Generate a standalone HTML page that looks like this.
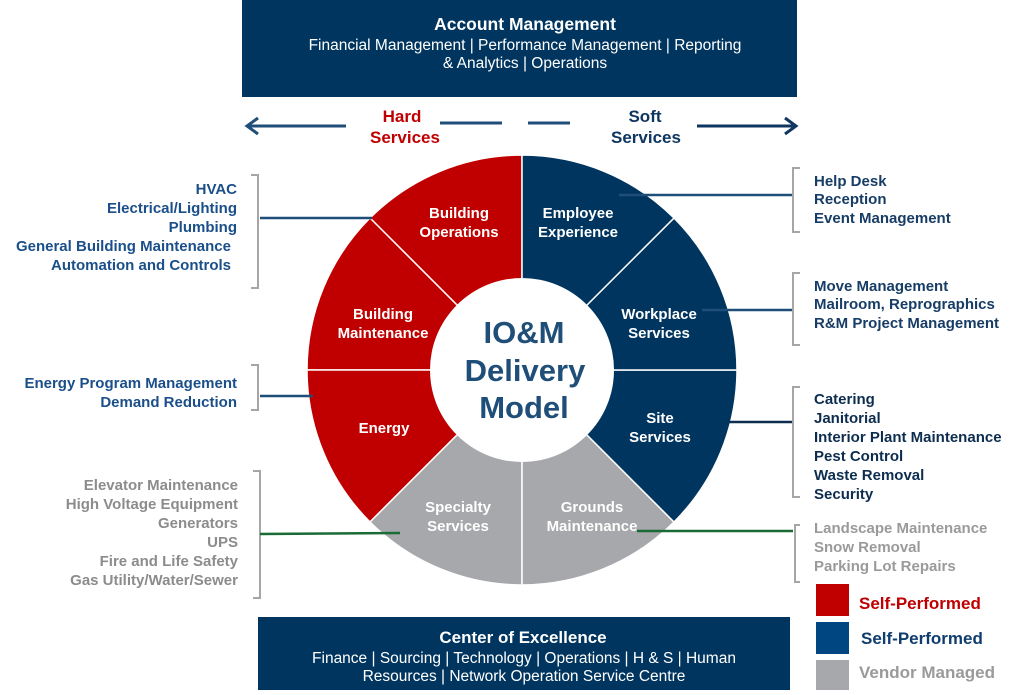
<!DOCTYPE html>
<html><head><meta charset="utf-8"><style>
html,body{margin:0;padding:0;background:#fff}
svg{display:block}
text{font-family:"Liberation Sans",Arial,sans-serif;font-weight:bold}
</style></head><body>
<svg width="1024" height="695" viewBox="0 0 1024 695" xmlns="http://www.w3.org/2000/svg">
<rect x="242" y="0" width="555" height="97" fill="#00355f"/>
<text x="525" y="30" font-size="17.5" fill="#fff" text-anchor="middle">Account Management</text>
<text x="525" y="50" font-size="15.5" fill="#fff" text-anchor="middle" style="font-weight:normal">Financial Management | Performance Management | Reporting</text>
<text x="525" y="68" font-size="15.5" fill="#fff" text-anchor="middle" style="font-weight:normal">&amp; Analytics | Operations</text>
<g stroke="#1f4e79" stroke-width="3" fill="none">
<line x1="247" y1="126" x2="346" y2="126"/>
<polyline points="258,118 247,126 258,134"/>
<line x1="440" y1="123" x2="502" y2="123"/>
<line x1="528" y1="123" x2="570" y2="123"/>
<line x1="697" y1="126" x2="796" y2="126" stroke="#0f3660"/>
<polyline points="785,118 796,126 785,134" stroke="#0f3660"/>
</g>
<text x="402" y="122" font-size="17" fill="#c00000" text-anchor="middle">Hard</text>
<text x="405" y="143" font-size="17" fill="#c00000" text-anchor="middle">Services</text>
<text x="645" y="122" font-size="17" fill="#0f3660" text-anchor="middle">Soft</text>
<text x="646" y="143" font-size="17" fill="#0f3660" text-anchor="middle">Services</text>
<g stroke="#fff" stroke-width="1.5">
<path d="M522,370 L522,155 A215,215 0 0 0 370,218 Z" fill="#c00000"/>
<path d="M522,370 L370,218 A215,215 0 0 0 307,370 Z" fill="#c00000"/>
<path d="M522,370 L307,370 A215,215 0 0 0 370,522 Z" fill="#c00000"/>
<path d="M522,370 L370,522 A215,215 0 0 0 522,585 Z" fill="#a7a8ab"/>
<path d="M522,370 L522,585 A215,215 0 0 0 674,522 Z" fill="#a7a8ab"/>
<path d="M522,370 L674,522 A215,215 0 0 0 737,370 Z" fill="#00355f"/>
<path d="M522,370 L737,370 A215,215 0 0 0 674,218 Z" fill="#00355f"/>
<path d="M522,370 L674,218 A215,215 0 0 0 522,155 Z" fill="#00355f"/>
</g>
<circle cx="522" cy="370" r="92" fill="#fff"/>
<text x="524" y="343" font-size="31" fill="#1f4e79" text-anchor="middle">IO&amp;M</text>
<text x="525" y="381" font-size="31" fill="#1f4e79" text-anchor="middle">Delivery</text>
<text x="524" y="418" font-size="31" fill="#1f4e79" text-anchor="middle">Model</text>
<g font-size="15" fill="#fff" text-anchor="middle">
<text x="459" y="218">Building</text><text x="459" y="237">Operations</text>
<text x="578" y="218">Employee</text><text x="578" y="237">Experience</text>
<text x="383" y="319">Building</text><text x="383" y="338">Maintenance</text>
<text x="659" y="319">Workplace</text><text x="659" y="338">Services</text>
<text x="384" y="433">Energy</text>
<text x="660" y="423">Site</text><text x="660" y="442">Services</text>
<text x="458" y="512">Specialty</text><text x="458" y="531">Services</text>
<text x="592" y="512">Grounds</text><text x="592" y="531">Maintenance</text>
</g>
<g stroke="#a6a6a6" stroke-width="2" fill="none">
<polyline points="251,175 258,175 258,288 251,288"/>
<polyline points="251,365 258,365 258,410 251,410"/>
<polyline points="253,471 260,471 260,598 253,598"/>
<polyline points="800,168 793,168 793,232 800,232"/>
<polyline points="800,273 793,273 793,345 800,345"/>
<polyline points="800,387 793,387 793,497 800,497"/>
<polyline points="800,525 795,525 795,582 800,582"/>
</g>
<g stroke-width="2.5" fill="none">
<line x1="260" y1="218" x2="372" y2="218" stroke="#1f4e79"/>
<line x1="260" y1="396" x2="313" y2="396" stroke="#1f4e79"/>
<line x1="260" y1="534" x2="400" y2="533" stroke="#1a6b35"/>
<line x1="619" y1="195" x2="792" y2="195" stroke="#1f4e79"/>
<line x1="702" y1="310" x2="792" y2="310" stroke="#1f4e79"/>
<line x1="729" y1="422" x2="792" y2="422" stroke="#0d2d4f"/>
<line x1="637" y1="531" x2="793" y2="531" stroke="#1a6b35"/>
</g>
<g font-size="15" fill="#1b4f8a" text-anchor="end">
<text x="237" y="194">HVAC</text>
<text x="237" y="213">Electrical/Lighting</text>
<text x="237" y="232">Plumbing</text>
<text x="231" y="251">General Building Maintenance</text>
<text x="231" y="270">Automation and Controls</text>
<text x="237" y="388">Energy Program Management</text>
<text x="237" y="407">Demand Reduction</text>
</g>
<g font-size="15" fill="#8c8c8c" text-anchor="end">
<text x="238" y="490">Elevator Maintenance</text>
<text x="238" y="509">High Voltage Equipment</text>
<text x="238" y="528">Generators</text>
<text x="238" y="547">UPS</text>
<text x="238" y="566">Fire and Life Safety</text>
<text x="238" y="585">Gas Utility/Water/Sewer</text>
</g>
<g font-size="15" fill="#173d66">
<text x="814" y="186">Help Desk</text>
<text x="814" y="204">Reception</text>
<text x="814" y="223">Event Management</text>
<text x="814" y="291">Move Management</text>
<text x="814" y="309">Mailroom, Reprographics</text>
<text x="814" y="328">R&amp;M Project Management</text>
</g>
<g font-size="15" fill="#0d2d4f">
<text x="814" y="404">Catering</text>
<text x="814" y="423">Janitorial</text>
<text x="814" y="442">Interior Plant Maintenance</text>
<text x="814" y="461">Pest Control</text>
<text x="814" y="480">Waste Removal</text>
<text x="814" y="499">Security</text>
</g>
<g font-size="15" fill="#9a9a9a">
<text x="814" y="533">Landscape Maintenance</text>
<text x="814" y="552">Snow Removal</text>
<text x="814" y="571">Parking Lot Repairs</text>
</g>
<rect x="816" y="584" width="33" height="32" fill="#c00000"/>
<rect x="816" y="622" width="33" height="32" fill="#004680"/>
<rect x="816" y="660" width="33" height="30" fill="#a7a8ab"/>
<text x="859" y="609" font-size="17" fill="#c00000">Self-Performed</text>
<text x="861" y="644" font-size="17" fill="#0f3d6e">Self-Performed</text>
<text x="859" y="678" font-size="17" fill="#9a9a9a">Vendor Managed</text>
<rect x="258" y="617" width="532" height="73" fill="#00355f"/>
<text x="523" y="643" font-size="17" fill="#fff" text-anchor="middle">Center of Excellence</text>
<text x="524" y="663" font-size="15.5" fill="#fff" text-anchor="middle" style="font-weight:normal">Finance | Sourcing | Technology | Operations | H &amp; S | Human</text>
<text x="524" y="681" font-size="15.5" fill="#fff" text-anchor="middle" style="font-weight:normal">Resources | Network Operation Service Centre</text>
</svg>
</body></html>
